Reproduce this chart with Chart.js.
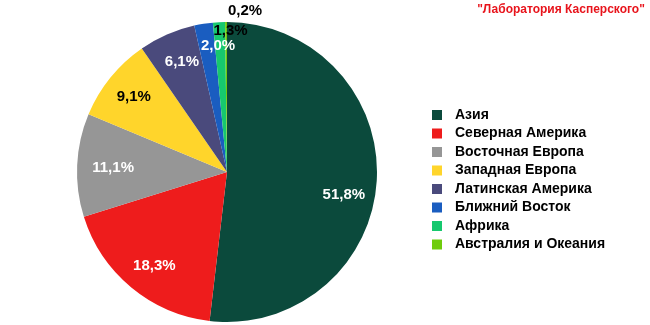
<!DOCTYPE html>
<html>
<head>
<meta charset="utf-8">
<script src="https://cdn.jsdelivr.net/npm/chart.js@4/dist/chart.umd.min.js"></script>
<style>
  html, body { margin: 0; padding: 0; background: #fff; }
  #wrap { width: 650px; height: 325px; }
</style>
</head>
<body>
<div id="wrap"><canvas id="pie"></canvas></div>
<script>
// Регионы и их доли, %
const regions = [
    "Азия",
    "Северная Америка",
    "Восточная Европа",
    "Западная Европа",
    "Латинская Америка",
    "Ближний Восток",
    "Африка",
    "Австралия и Океания"
];
const shares = [51.8, 18.3, 11.1, 9.1, 6.1, 2.0, 1.3, 0.2];
const regionColors = [
    "#0b4a3c", "#ee1c1c", "#969696", "#ffd52b",
    "#4a4a7c", "#1a5dc0", "#16c86e", "#6fcc0c"
];
const sourceText = "\"Лаборатория Касперского\"";

// where each value label sits: fraction of radius, extra x/y shift, colour
const labelPlace = [
    { f: 0.78, dx: 0, dy: 16, color: "#fff" },
    { f: 0.78, dx: 2, dy: 4, color: "#fff" },
    { f: 0.76, dx: 0, dy: 1, color: "#fff" },
    { f: 0.80, dx: 0, dy: 0, color: "#000" },
    { f: 0.80, dx: 3, dy: 0, color: "#fff" },
    { f: 0.85, dx: 11, dy: 0, color: "#fff" },
    { f: 0.93, dx: 11, dy: -2, color: "#000" },
    { f: 1.08, dx: 19, dy: 1, color: "#000" }
];

const fmt = v => v.toFixed(1).replace(".", ",") + "%";

const sliceLabels = {
    id: "sliceLabels",
    afterDatasetsDraw(chart) {
        const ctx = chart.ctx;
        const arcs = chart.getDatasetMeta(0).data;
        ctx.save();
        ctx.font = "bold 15px 'Liberation Sans', Arial, sans-serif";
        ctx.textAlign = "center";
        ctx.textBaseline = "middle";
        arcs.forEach((arc, i) => {
            const p = arc.getProps(["x", "y", "startAngle", "endAngle", "outerRadius"], true);
            const mid = (p.startAngle + p.endAngle) / 2;
            const pl = labelPlace[i];
            const r = p.outerRadius * pl.f;
            ctx.fillStyle = pl.color;
            ctx.fillText(fmt(shares[i]), p.x + Math.cos(mid) * r + pl.dx, p.y + Math.sin(mid) * r + pl.dy);
        });
        ctx.restore();
    }
};

// legend and source caption on the right
const sideText = {
    id: "sideText",
    afterDraw(chart) {
        const ctx = chart.ctx;
        ctx.save();
        ctx.font = "bold 14px 'Liberation Sans', Arial, sans-serif";
        ctx.textBaseline = "middle";
        ctx.textAlign = "left";
        regions.forEach((name, i) => {
            const y = 115 + i * 18.5;
            ctx.fillStyle = regionColors[i];
            ctx.fillRect(432, y - 5, 10, 10);
            ctx.fillStyle = "#000";
            ctx.fillText(name, 455, y);
        });
        ctx.font = "bold 12px 'Liberation Sans', Arial, sans-serif";
        ctx.textAlign = "center";
        ctx.fillStyle = "#e8141c";
        ctx.fillText(sourceText, 561, 10);
        ctx.restore();
    }
};

new Chart(document.getElementById("pie"), {
    type: "pie",
    data: {
        labels: regions,
        datasets: [{
            data: shares,
            backgroundColor: regionColors,
            borderWidth: 0
        }]
    },
    options: {
        responsive: true,
        maintainAspectRatio: false,
        animation: false,
        layout: { padding: { left: 77, right: 273, top: 22, bottom: 3 } },
        plugins: {
            legend: { display: false },
            tooltip: { enabled: false }
        }
    },
    plugins: [sliceLabels, sideText]
});
</script>
</body>
</html>
